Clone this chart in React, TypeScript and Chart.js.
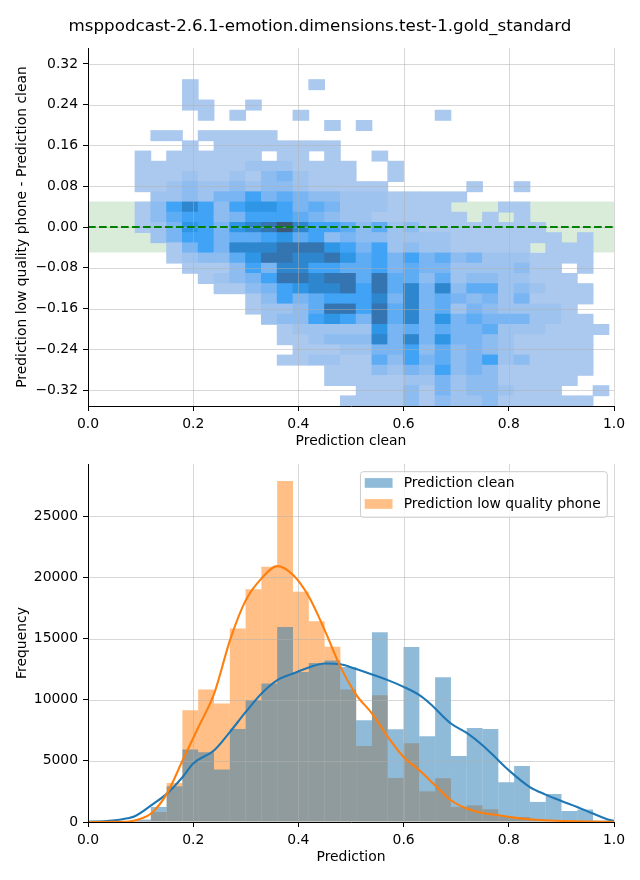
import React, { useEffect, useRef } from "react";
import { Chart, registerables } from "chart.js";

Chart.register(...registerables);

const FONT = "'DejaVu Sans', sans-serif";

// ---------- texts ----------
const chartTitle = "msppodcast-2.6.1-emotion.dimensions.test-1.gold_standard";
const topXLabel = "Prediction clean";
const topYLabel = "Prediction low quality phone - Prediction clean";
const bottomXLabel = "Prediction";
const bottomYLabel = "Frequency";
const seriesNames = ["Prediction clean", "Prediction low quality phone"];

// ---------- ticks ----------
const xTicks = [0, 0.2, 0.4, 0.6, 0.8, 1.0];
const topYTicks = [-0.32, -0.24, -0.16, -0.08, 0, 0.08, 0.16, 0.24, 0.32];
const bottomYTicks = [0, 5000, 10000, 15000, 20000, 25000];

// ---------- bins / ranges ----------
const xBinStart = 0.0894;
const xBinWidth = 0.03003;
const yBinStart = -0.3513;
const yBinHeight = 0.02002;
const topYRange = [-0.3513, 0.3513];
const bottomYMax = 29270;
const bandLimits = [-0.05, 0.05];
const zeroLineY = 0;

// ---------- 2D histogram (intensity level per cell, top row first, 30 x-bins) ----------
const heatRows = [
  "0001000000 0100000000 0000000000",
  "0001000000 0000000000 0000000000",
  "0001100100 0000000000 0000000000",
  "0000101000 1000000001 0000000000",
  "0000000000 0010100000 0000000000",
  "0110111110 0000000000 0000000000",
  "0001011111 1110000000 0000000000",
  "1011111101 1010010000 0000000000",
  "1111111222 1111001000 0000000000",
  "1112112134 2111001000 0000000000",
  "1123223233 2111110000 0100100000",
  "0223244645 4332221111 1000000000",
  "1368636776 4542221111 0001100000",
  "1356634666 5432211111 1010100000",
  "124764789a 8665352311 1111110000",
  "0246645567 5634332222 1111111010",
  "0014648889 9976462322 1111101110",
  "0012335799 8897564645 3422211110",
  "0001113648 8665564544 2222311010",
  "0000123469 9899595535 2332211100",
  "0000011346 7889695848 3552321110",
  "0000000136 4566684845 4342411110",
  "0000000122 3599695845 2432222100",
  "0000000023 3676495847 4544422110",
  "0000000001 2222274545 4452221111",
  "0000000001 1233384847 4432111110",
  "0000000000 1112244635 3432111110",
  "0000000001 1221153645 3462311110",
  "0000000000 0011132436 3431111110",
  "0000000000 0011111224 2331111100",
  "0000000000 0000111314 2332111001",
  "0000000000 0001111313 2231111110",
];
const heatPalette = [
  "rgba(0,0,0,0)",
  "#abc9ee",
  "#9fc3ef",
  "#8dbcf0",
  "#79b5f2",
  "#5eacf4",
  "#40a3f5",
  "#2f96e6",
  "#2e86cf",
  "#3474b0",
  "#3b5876",
];

// ---------- 1D histograms ----------
const cleanCounts = [
  200, 1230, 2920, 5920, 5700, 4290, 7610, 9960, 11320, 15950,
  12270, 13000, 13200, 12680, 8320, 15520, 7580, 14300, 7010, 11840,
  5400, 7690, 7610, 3250, 4580, 1640, 2290, 900, 1015, 120,
];
const phoneCounts = [
  100, 820, 3190, 9140, 10830, 9690, 15830, 19020, 20860, 27880,
  18820, 16420, 14320, 10830, 6220, 10370, 3600, 6440, 2510, 3580,
  1230, 1360, 1040, 460, 410, 190, 120, 60, 40, 10,
];

// ---------- KDE curves ----------
const cleanKdeX = [0, 0.03, 0.06, 0.075, 0.089, 0.12, 0.15, 0.18, 0.2, 0.24, 0.27, 0.3, 0.33, 0.36, 0.39, 0.42, 0.45, 0.48, 0.51, 0.54, 0.57, 0.6, 0.63, 0.65, 0.69, 0.72, 0.75, 0.78, 0.8, 0.84, 0.87, 0.9, 0.93, 0.96, 0.99, 1.0];
const cleanKdeY = [20, 60, 180, 300, 470, 1360, 2320, 3680, 4780, 5870, 7370, 9000, 10510, 11600, 12140, 12640, 12960, 12900, 12500, 12060, 11600, 11050, 10370, 9690, 8050, 7280, 6280, 5050, 4230, 2860, 2240, 1720, 1230, 690, 190, 100];
const phoneKdeX = [0, 0.06, 0.082, 0.1, 0.12, 0.15, 0.18, 0.21, 0.24, 0.27, 0.3, 0.33, 0.36, 0.39, 0.42, 0.45, 0.48, 0.51, 0.54, 0.57, 0.6, 0.63, 0.66, 0.69, 0.72, 0.75, 0.78, 0.81, 0.84, 0.87, 0.93, 1.0];
const phoneKdeY = [0, 10, 60, 270, 690, 2320, 5050, 7770, 10510, 14870, 18140, 19920, 20920, 20190, 18410, 15690, 12680, 10400, 8870, 6960, 5320, 4230, 3000, 1780, 1100, 740, 550, 360, 220, 140, 50, 15];

const cleanLine = "#1f77b4";
const phoneLine = "#ff7f0e";
const cleanFill = "rgba(31,119,180,0.5)";
const phoneFill = "rgba(255,127,14,0.5)";
const legendColors = [cleanFill, phoneFill];

const binCenter = (i: number) => xBinStart + (i + 0.5) * xBinWidth;

// ---------- plugins ----------
const makeGridPlugin = (afterIndex: number) => ({
  id: "gridOver",
  afterDatasetDraw(chart: any, args: any) {
    if (args.index !== afterIndex) return;
    const { ctx, chartArea: a, scales } = chart;
    ctx.save();
    ctx.strokeStyle = "rgba(176,176,176,0.5)";
    ctx.lineWidth = 1;
    ctx.beginPath();
    scales.x.ticks.forEach((t: any) => {
      const p = Math.round(scales.x.getPixelForValue(t.value)) + 0.5;
      ctx.moveTo(p, a.top);
      ctx.lineTo(p, a.bottom);
    });
    scales.y.ticks.forEach((t: any) => {
      const p = Math.round(scales.y.getPixelForValue(t.value)) + 0.5;
      ctx.moveTo(a.left, p);
      ctx.lineTo(a.right, p);
    });
    ctx.stroke();
    ctx.restore();
  },
});

const bandPlugin = {
  id: "band",
  beforeDatasetsDraw(chart: any) {
    const { ctx, chartArea: a, scales } = chart;
    const yTop = scales.y.getPixelForValue(bandLimits[1]);
    const yBot = scales.y.getPixelForValue(bandLimits[0]);
    ctx.save();
    ctx.fillStyle = "rgba(0,128,0,0.15)";
    ctx.fillRect(a.left, yTop, a.right - a.left, yBot - yTop);
    ctx.restore();
  },
};

const titlePlugin = {
  id: "figTitle",
  afterDraw(chart: any) {
    const ctx = chart.ctx;
    ctx.save();
    ctx.font = `16.7px ${FONT}`;
    ctx.fillStyle = "#000";
    ctx.textAlign = "center";
    ctx.textBaseline = "middle";
    ctx.fillText(chartTitle, chart.width / 2, 27);
    ctx.restore();
  },
};

const legendPlugin = {
  id: "boxLegend",
  afterDraw(chart: any) {
    const { ctx, chartArea: a } = chart;
    const fs = 13.9;
    ctx.save();
    ctx.font = `${fs}px ${FONT}`;
    const textW = Math.max(...seriesNames.map((n) => ctx.measureText(n).width));
    const padL = 4.3, padR = 6.6, handleW = 27.8, gap = 11.2, rowH = 21;
    const w = padL + handleW + gap + textW + padR;
    const h = 45.6;
    const right = a.right - 6.7;
    const top = a.top + 7.7;
    const left = right - w;
    ctx.beginPath();
    if ((ctx as any).roundRect) (ctx as any).roundRect(left, top, w, h, 2.8);
    else ctx.rect(left, top, w, h);
    ctx.fillStyle = "rgba(255,255,255,0.8)";
    ctx.fill();
    ctx.strokeStyle = "#cccccc";
    ctx.lineWidth = 1;
    ctx.stroke();
    seriesNames.forEach((name, i) => {
      const cy = top + 11.3 + i * rowH;
      ctx.fillStyle = legendColors[i];
      ctx.fillRect(left + padL, cy - 4.9, handleW, 9.7);
      ctx.fillStyle = "#000";
      ctx.textBaseline = "middle";
      ctx.textAlign = "left";
      ctx.fillText(name, left + padL + handleW + gap, cy);
    });
    ctx.restore();
  },
};

// ---------- shared axis helpers ----------
const tickFont = { family: FONT, size: 13.9 };
const axisCommon = {
  type: "linear" as const,
  offset: false,
  grid: { offset: false, drawOnChartArea: false, tickLength: 5, tickColor: "#000", tickWidth: 1 },
  border: { display: true, color: "#000", width: 1, z: 1 },
};

const xAxis = (label: string) => ({
  ...axisCommon,
  min: 0,
  max: 1,
  ticks: {
    color: "#000",
    font: tickFont,
    padding: 5,
    maxRotation: 0,
    autoSkip: false,
    callback: (v: any) => Number(v).toFixed(1),
  },
  title: { display: true, text: label, color: "#000", font: tickFont, padding: { top: 0, bottom: 4.7 } },
  afterBuildTicks: (s: any) => {
    s.ticks = xTicks.map((v) => ({ value: v }));
  },
  afterFit: (s: any) => {
    s.height = 48;
  },
});

const yAxis = (label: string, min: number, max: number, ticks: number[], fmt: (v: number) => string) => ({
  ...axisCommon,
  min,
  max,
  ticks: { color: "#000", font: tickFont, padding: 5, autoSkip: false, callback: (v: any) => fmt(Number(v)) },
  title: { display: true, text: label, color: "#000", font: tickFont, padding: { top: 13.6, bottom: 0 } },
  afterBuildTicks: (s: any) => {
    s.ticks = ticks.map((v) => ({ value: v }));
  },
  afterFit: (s: any) => {
    s.width = 88;
  },
});

function buildTop(): any {
  const heatData: any[] = [];
  const heatColors: string[] = [];
  const nRows = heatRows.length;
  heatRows.forEach((rowStr, r) => {
    const row = rowStr.replace(/ /g, "");
    const lo = yBinStart + (nRows - 1 - r) * yBinHeight;
    for (let c = 0; c < row.length; c++) {
      const level = parseInt(row[c], 16);
      if (!level) continue;
      heatData.push({ x: binCenter(c), y: [lo, lo + yBinHeight] });
      heatColors.push(heatPalette[level]);
    }
  });
  return {
    type: "bar",
    data: {
      datasets: [
        {
          type: "bar",
          data: heatData,
          backgroundColor: heatColors,
          borderWidth: 0,
          barPercentage: 1,
          categoryPercentage: 1,
          inflateAmount: 0.4,
          order: 2,
        },
        {
          type: "line",
          data: [
            { x: xTicks[0], y: zeroLineY },
            { x: xTicks[xTicks.length - 1], y: zeroLineY },
          ],
          borderColor: "#008000",
          borderWidth: 2.1,
          borderDash: [7.7, 3.3],
          pointRadius: 0,
          fill: false,
          order: 1,
        },
      ],
    },
    options: {
      responsive: false,
      animation: false,
      events: [],
      layout: { padding: { left: 0, right: 26, top: 48, bottom: 2 } },
      plugins: { legend: { display: false }, tooltip: { enabled: false }, title: { display: false } },
      scales: {
        x: xAxis(topXLabel),
        y: yAxis(topYLabel, topYRange[0], topYRange[1], topYTicks, (v) => {
          const s = Math.abs(v).toFixed(2);
          return v < -1e-9 ? "\u2212" + s : s;
        }),
      },
    },
    plugins: [bandPlugin, makeGridPlugin(0), titlePlugin],
  };
}

function buildBottom(): any {
  const cleanBars = cleanCounts.map((v, i) => ({ x: binCenter(i), y: v }));
  const phoneBars = phoneCounts.map((v, i) => ({ x: binCenter(i), y: v }));
  const cleanKde = cleanKdeX.map((x, i) => ({ x, y: cleanKdeY[i] }));
  const phoneKde = phoneKdeX.map((x, i) => ({ x, y: phoneKdeY[i] }));
  const barCommon = {
    type: "bar",
    borderWidth: 0,
    barPercentage: 1,
    categoryPercentage: 1,
    grouped: false,
    inflateAmount: 0,
  };
  const lineCommon = {
    type: "line",
    borderWidth: 2.1,
    pointRadius: 0,
    fill: false,
    cubicInterpolationMode: "monotone",
  };
  return {
    type: "bar",
    data: {
      datasets: [
        { ...barCommon, label: seriesNames[0], data: cleanBars, backgroundColor: cleanFill, order: 2 },
        { ...barCommon, label: seriesNames[1], data: phoneBars, backgroundColor: phoneFill, order: 3 },
        { ...lineCommon, data: cleanKde, borderColor: cleanLine, order: 1 },
        { ...lineCommon, data: phoneKde, borderColor: phoneLine, order: 0 },
      ],
    },
    options: {
      responsive: false,
      animation: false,
      events: [],
      layout: { padding: { left: 0, right: 26, top: 24, bottom: 10 } },
      plugins: { legend: { display: false }, tooltip: { enabled: false }, title: { display: false } },
      scales: {
        x: xAxis(bottomXLabel),
        y: yAxis(bottomYLabel, 0, bottomYMax, bottomYTicks, (v) => String(Math.round(v))),
      },
    },
    plugins: [makeGridPlugin(0), legendPlugin],
  };
}

export default function App() {
  const topRef = useRef<HTMLCanvasElement>(null);
  const botRef = useRef<HTMLCanvasElement>(null);
  useEffect(() => {
    Chart.defaults.font.family = FONT;
    const c1 = new Chart(topRef.current as HTMLCanvasElement, buildTop());
    const c2 = new Chart(botRef.current as HTMLCanvasElement, buildBottom());
    return () => {
      c1.destroy();
      c2.destroy();
    };
  }, []);
  return (
    <div style={{ position: "absolute", left: 0, top: 0, width: 640, height: 880, background: "#fff" }}>
      <canvas
        ref={topRef}
        width={640}
        height={456}
        style={{ position: "absolute", left: 0, top: 0, width: 640, height: 456 }}
      />
      <canvas
        ref={botRef}
        width={640}
        height={440}
        style={{ position: "absolute", left: 0, top: 440, width: 640, height: 440 }}
      />
    </div>
  );
}
